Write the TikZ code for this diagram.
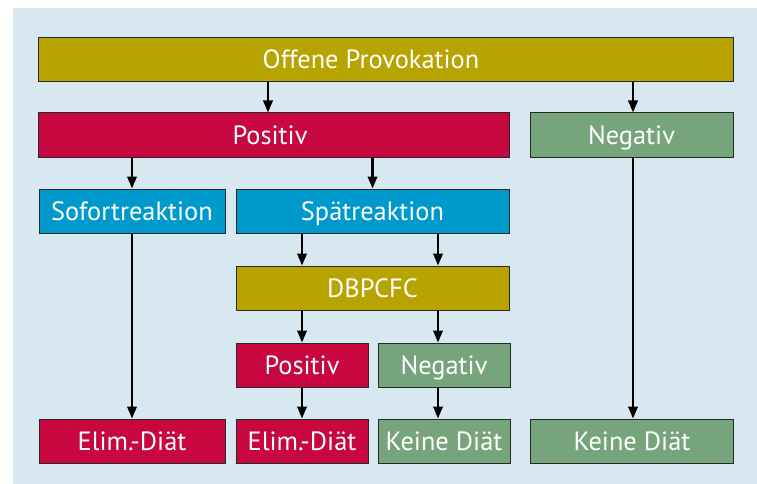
\documentclass[tikz,border=0pt]{standalone}
\usepackage{fontspec}
\setmainfont{PT Sans}
\usetikzlibrary{arrows.meta}
\definecolor{bgblue}{RGB}{216,232,240}
\definecolor{olivebox}{RGB}{184,164,0}
\definecolor{redbox}{RGB}{200,6,63}
\definecolor{bluebox}{RGB}{0,153,204}
\definecolor{greenbox}{RGB}{118,165,124}
\definecolor{edge}{RGB}{40,40,40}
\tikzset{
  box/.style={draw=edge, line width=1pt, fill=#1, text=white, inner sep=0pt,
    font=\fontsize{26.5}{30}\selectfont, minimum height=44bp,
    text height=22bp, text depth=3.5bp},
  txt/.style={text=white, inner sep=0pt, font=\fontsize{26.5}{30}\selectfont,
    text height=22bp, text depth=3.5bp},
  arr/.style={draw=black, line width=2.2pt, -{Triangle[length=12bp,width=9.5bp]}},
}
\begin{document}
\begin{tikzpicture}[x=1bp,y=-1bp]
\useasboundingbox (0,0) rectangle (757,484);
\fill[bgblue] (13,8) rectangle (757,484);
% row 1
\node[box=olivebox, minimum width=694bp] (off) at (386,59.5) {};
\node[txt] (offt) at (371,59.5) {Offene Provokation};
% row 2
\node[box=redbox, minimum width=470bp] (pos) at (274,135) {};
\node[txt] (post) at (270,135) {Positiv};
\node[box=greenbox, minimum width=203bp] (neg) at (631.5,135) {Negativ};
% row 3
\node[box=bluebox, minimum width=186bp] (sof) at (132,211) {Sofortreaktion};
\node[box=bluebox, minimum width=273bp] (spa) at (372.5,211) {Spätreaktion};
% row 4
\node[box=olivebox, minimum width=273bp] (dbp) at (372.5,288) {DBPCFC};
% row 5
\node[box=redbox, minimum width=132bp] (pos2) at (302,365) {Positiv};
\node[box=greenbox, minimum width=132bp] (neg2) at (444,365) {Negativ};
% row 6
\node[box=redbox, minimum width=186bp] (elim1) at (132,441) {Elim.-Diät};
\node[box=redbox, minimum width=132bp] (elim2) at (302,441) {Elim.-Diät};
\node[box=greenbox, minimum width=132bp] (kein2) at (444,441) {Keine Diät};
\node[box=greenbox, minimum width=203bp] (kein1) at (632,441) {Keine Diät};
% arrows
\draw[arr] ([xshift=-6bp]pos.north |- off.south) -- ([xshift=-6bp]pos.north);
\draw[arr] ([xshift=1.5bp]neg.north |- off.south) -- ([xshift=1.5bp]neg.north);
\draw[arr] (sof.north |- pos.south) -- (sof.north);
\draw[arr] (spa.north |- pos.south) -- (spa.north);
\draw[arr] (pos2.north |- spa.south) -- (pos2.north |- dbp.north);
\draw[arr] ([xshift=-6bp]neg2.north |- spa.south) -- ([xshift=-6bp]neg2.north |- dbp.north);
\draw[arr] (pos2.north |- dbp.south) -- (pos2.north);
\draw[arr] ([xshift=-6bp]neg2.north |- dbp.south) -- ([xshift=-6bp]neg2.north);
\draw[arr] (pos2.south) -- (elim2.north);
\draw[arr] ([xshift=-6bp]neg2.south) -- ([xshift=-6bp]kein2.north);
\draw[arr] (sof.south) -- (elim1.north);
\draw[arr] ([xshift=1.5bp]neg.south) -- ([xshift=1bp]kein1.north);
\end{tikzpicture}
\end{document}
